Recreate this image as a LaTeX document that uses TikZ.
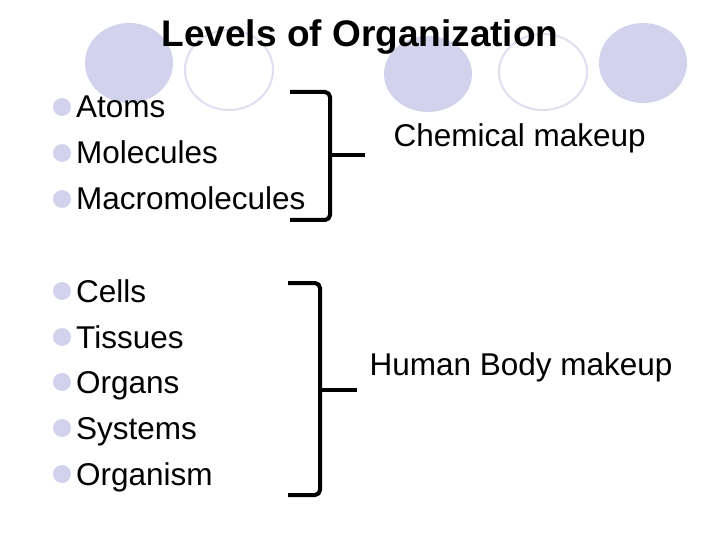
\documentclass[tikz,border=0pt]{standalone}
\usepackage{fontspec}
\setmainfont{Liberation Sans}
\begin{document}
\begin{tikzpicture}[x=1pt,y=-1pt,
  fillc/.style={fill=lav,draw=none},
  holc/.style={draw=lav!70,line width=2pt,fill=white},
  item/.style={anchor=base west,font=\fontsize{31.5}{33}\selectfont,inner sep=0},
  bul/.style={circle,fill=lav,minimum size=18pt,inner sep=0},
  brk/.style={line width=4pt,line join=round,rounded corners=5pt}]
\definecolor{lav}{RGB}{210,210,236}
\useasboundingbox (0,0) rectangle (720,540);
\fill[white] (0,0) rectangle (720,540);
\path[fillc] (129,63) ellipse (44 and 40);
\path[holc] (229,70) ellipse (44 and 40);
\path[fillc] (428,74) ellipse (44 and 38);
\path[holc] (543,72) ellipse (44 and 38);
\path[fillc] (643,63) ellipse (44 and 40);
\node[font=\bfseries\fontsize{37}{39}\selectfont] (title) at (360,37) {Levels of Organization};
\foreach \t/\y [count=\i] in {Atoms/118,Molecules/164,Macromolecules/210,Cells/302,Tissues/348,Organs/393,Systems/439,Organism/485}{
  \node[bul] (b\i) at (62,\y-11) {};
  \node[item] (t\i) at (76,\y) {\t};
}
\coordinate (a1) at (290,92); \coordinate (a2) at (330,155); \coordinate (a3) at (290,220); \coordinate (a4) at (365,155);
\draw[brk] (a1) -- (330,92) -- (330,148) -- (a2) -- (330,162) -- (330,220) -- (a3);
\draw[brk] (a2) -- (a4);
\node[anchor=west,font=\fontsize{31.5}{33}\selectfont] (chem) at (390,138) {Chemical makeup};
\coordinate (c1) at (288,283); \coordinate (c2) at (320,390); \coordinate (c3) at (288,495); \coordinate (c4) at (357,390);
\draw[brk] (c1) -- (320,283) -- (320,383) -- (c2) -- (320,397) -- (320,495) -- (c3);
\draw[brk] (c2) -- (c4);
\node[anchor=west,font=\fontsize{31.5}{33}\selectfont] (hum) at (366,367) {Human Body makeup};
\end{tikzpicture}
\end{document}
